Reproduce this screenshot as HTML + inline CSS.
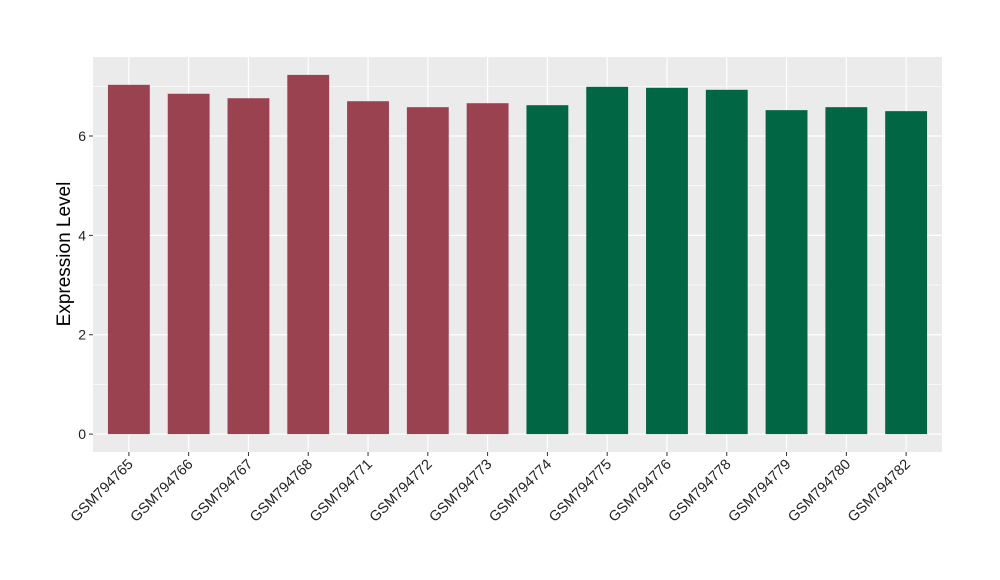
<!DOCTYPE html>
<html><head><meta charset="utf-8"><style>body{margin:0;background:#fff}svg{display:block}</style></head>
<body>
<svg id="chart" width="1000" height="580" xmlns="http://www.w3.org/2000/svg" font-family="Liberation Sans, sans-serif">
<rect x="93" y="57" width="849" height="395" fill="#ebebeb"/>
<g id="grid"></g><g id="bars"></g><g id="axes"></g>
<text transform="translate(70,254) rotate(-90)" text-anchor="middle" font-size="19" fill="#000">Expression Level</text>
</svg>
<script>
const categories=["GSM794765","GSM794766","GSM794767","GSM794768","GSM794771","GSM794772","GSM794773","GSM794774","GSM794775","GSM794776","GSM794778","GSM794779","GSM794780","GSM794782"];
const values=[7.03,6.85,6.76,7.23,6.70,6.58,6.66,6.62,6.99,6.97,6.93,6.52,6.58,6.50];
const groups=[0,0,0,0,0,0,0,1,1,1,1,1,1,1];
const yTicks=[0,2,4,6];
const yMinor=[1,3,5,7];
const colors=["#9b4250","#006644"];
const NS="http://www.w3.org/2000/svg";
const x0=93,x1=942,y0=452,y1=57,ymin=-0.36,ymax=7.59;
const step=(x1-x0)/(categories.length-1+1.2);
function xs(i){return x0+step*(0.6+i);}
function ys(v){return y0-(v-ymin)/(ymax-ymin)*(y0-y1);}
function mk(t,a,p){const e=document.createElementNS(NS,t);for(const k in a)e.setAttribute(k,a[k]);p.appendChild(e);return e;}
const grid=document.getElementById('grid'),bars=document.getElementById('bars'),axes=document.getElementById('axes');
yMinor.forEach(v=>{const l=mk('line',{x1:x0,x2:x1,y1:ys(v),y2:ys(v),stroke:'#fff','stroke-width':0.6},grid);

});
yTicks.forEach(v=>{const l=mk('line',{x1:x0,x2:x1,y1:ys(v),y2:ys(v),stroke:'#fff','stroke-width':1.2},grid);


const t=mk('line',{x1:x0-4,x2:x0,y1:ys(v),y2:ys(v),stroke:'#333'},axes);


const tx=mk('text',{x:x0-7,y:ys(v)+5,'text-anchor':'end','font-size':14,fill:'#222'},axes);tx.textContent=v;

});
categories.forEach((c,i)=>{const x=xs(i);
const g=mk('line',{x1:x,x2:x,y1:y0,y2:y1,stroke:'#fff','stroke-width':1.2},grid);


const bw=step*0.7;
const b=mk('rect',{x:x-bw/2,y:ys(values[i]),width:bw,height:ys(0)-ys(values[i]),fill:colors[groups[i]]},bars);


const t=mk('line',{x1:x,x2:x,y1:y0,y2:y0+4,stroke:'#333'},axes);


const tx=mk('text',{transform:`translate(${x+5},${y0+13}) rotate(-45)`,'text-anchor':'end','font-size':14.5,fill:'#222'},axes);tx.textContent=c;

});
</script>
</body></html>
